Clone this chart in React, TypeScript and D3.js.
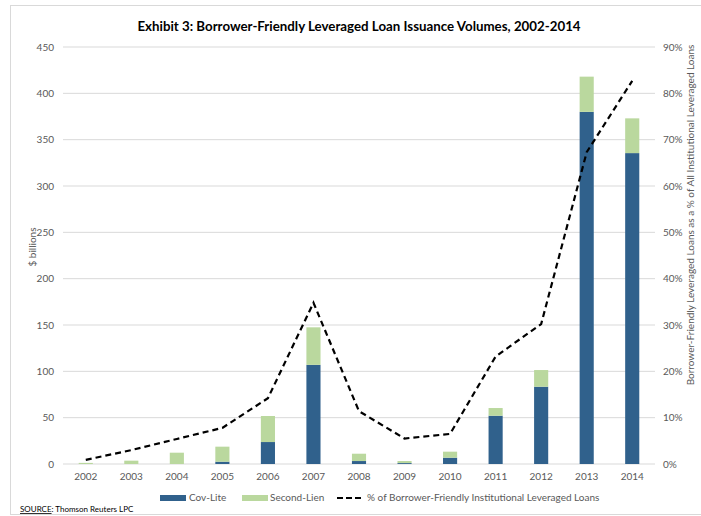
import React from "react";
import * as d3 from "d3";

const years = ["2002","2003","2004","2005","2006","2007","2008","2009","2010","2011","2012","2013","2014"];
const covLite = [0, 0, 0, 2.5, 23.7, 107, 3.2, 1, 6.8, 52.1, 83.4, 380, 335.5];
const secondLien = [1.2, 3.6, 12.2, 16.2, 28.1, 40.5, 7.9, 2.2, 6.5, 8.3, 18, 38, 37.5];
const pctBorrowerFriendly = [0.9, 3.0, 5.4, 7.8, 14.2, 34.8, 11.4, 5.5, 6.5, 23.2, 30.2, 67.3, 82.7];
const leftTicks = [0, 50, 100, 150, 200, 250, 300, 350, 400, 450];
const rightTicks = [0, 10, 20, 30, 40, 50, 60, 70, 80, 90];

const W = 701, H = 516;
const M = { left: 63, right: 655, top: 47, bottom: 464 };
const FONT = "Lato, 'Open Sans', sans-serif";
const COV = "#30618C";
const SEC = "#BAD89E";
const GRAY = "#595959";

export default function App() {
  const x = d3.scaleBand<string>().domain(years).range([M.left, M.right]).paddingInner(0.69).paddingOuter(0.345);
  const y = d3.scaleLinear().domain([0, 450]).range([M.bottom, M.top]);
  const y2 = d3.scaleLinear().domain([0, 90]).range([M.bottom, M.top]);
  const line = d3.line<number>()
    .x((_, i) => (x(years[i]) as number) + x.bandwidth() / 2)
    .y((d) => y2(d));

  return (
    <svg width={W} height={H} style={{ position: "absolute", left: 0, top: 0, background: "#fff" }} fontFamily={FONT}>
      <rect x={10.5} y={5.5} width={W} height={509} fill="#fff" stroke="#D9D9D9" />
      <text x={359} y={31} textAnchor="middle" fontWeight="bold" fontSize={13.3} fill="#000">
        Exhibit 3: Borrower-Friendly Leveraged Loan Issuance Volumes, 2002-2014
      </text>
      {leftTicks.map((t) => (
        <g key={t}>
          <line x1={M.left} x2={M.right} y1={y(t)} y2={y(t)} stroke="#D9D9D9" strokeWidth={1} />
          <text x={54} y={y(t)} dy="0.35em" textAnchor="end" fontSize={10} fill={GRAY}>{t}</text>
        </g>
      ))}
      {rightTicks.map((t) => (
        <text key={t} x={663} y={y2(t)} dy="0.35em" textAnchor="start" fontSize={10} fill={GRAY}>{t}%</text>
      ))}
      {years.map((yr, i) => (
        <g key={yr}>
          <rect x={x(yr)} width={x.bandwidth()} y={y(covLite[i])} height={y(0) - y(covLite[i])} fill={COV} />
          <rect x={x(yr)} width={x.bandwidth()} y={y(covLite[i] + secondLien[i])} height={y(covLite[i]) - y(covLite[i] + secondLien[i])} fill={SEC} />
          <text x={(x(yr) as number) + x.bandwidth() / 2} y={480} textAnchor="middle" fontSize={10} fill={GRAY}>{yr}</text>
        </g>
      ))}
      <path d={line(pctBorrowerFriendly) || ""} fill="none" stroke="#000" strokeWidth={2.2} strokeDasharray="6,4" />
      <text transform={`translate(36,247) rotate(-90)`} textAnchor="middle" fontSize={10} fill={GRAY}>$ billions</text>
      <text transform={`translate(694,215) rotate(-90)`} textAnchor="middle" fontSize={10} fill={GRAY}>
        Borrower-Friendly Leveraged Loans as a % of All Institutional Leveraged Loans
      </text>
      <rect x={160} y={495} width={26} height={6} fill={COV} />
      <text x={189} y={501} fontSize={10} fill={GRAY}>Cov-Lite</text>
      <rect x={242} y={495} width={26} height={6} fill={SEC} />
      <text x={270} y={501} fontSize={10} fill={GRAY}>Second-Lien</text>
      <line x1={337} x2={362} y1={498} y2={498} stroke="#000" strokeWidth={2.2} strokeDasharray="6,3" />
      <text x={367} y={501} fontSize={10} fill={GRAY}>% of Borrower-Friendly Institutional Leveraged Loans</text>
      <text x={20} y={512} fontSize={8} fill="#000">
        <tspan textDecoration="underline">SOURCE</tspan>: Thomson Reuters LPC
      </text>
    </svg>
  );
}
